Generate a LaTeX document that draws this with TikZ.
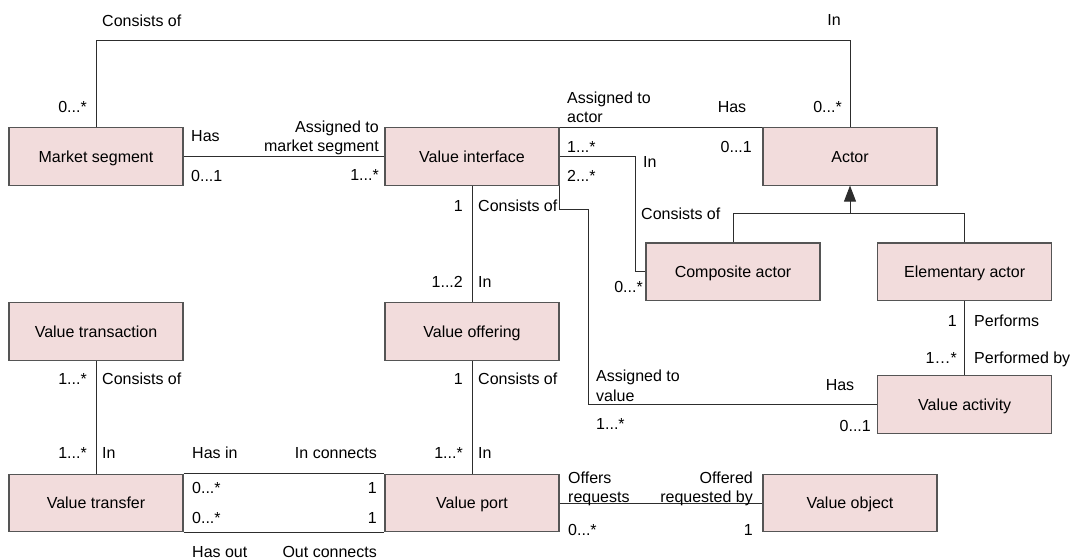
\documentclass[tikz,border=0pt]{standalone}
\usepackage{fontspec}
\setmainfont{Liberation Sans}
\usetikzlibrary{arrows.meta}
\definecolor{boxfill}{RGB}{242,220,220}
\definecolor{boxline}{RGB}{85,85,85}
\definecolor{wirecol}{RGB}{45,45,45}
\begin{document}
\begin{tikzpicture}[x=1pt,y=-1pt,
  cls/.style={draw=boxline,fill=boxfill,line width=1.1pt,minimum width=174pt,minimum height=57.5pt,
    inner sep=0pt,text height=11.5pt,text depth=0pt,font=\fontsize{16}{19.5}\selectfont},
  lab/.style={inner sep=0pt,text height=11.5pt,text depth=0pt,font=\fontsize{16}{19.5}\selectfont},
  lab2/.style={inner sep=0pt,font=\fontsize{16}{19.5}\selectfont},
  wire/.style={draw=wirecol,line width=0.9pt}]
\useasboundingbox (0,0) rectangle (1073,559);

% classes
\node[cls] (ms)      at (96,156.3)    {Market segment};
\node[cls] (vi)      at (472,156.3)   {Value interface};
\node[cls] (actor)   at (850,156.3)   {Actor};
\node[cls] (comp)    at (733,271.7)   {Composite actor};
\node[cls] (elem)    at (964.7,271.7) {Elementary actor};
\node[cls] (vtrans)  at (96,331.5)    {Value transaction};
\node[cls] (voff)    at (472,331.5)   {Value offering};
\node[cls] (vact)    at (964.7,404.5) {Value activity};
\node[cls] (vtransf) at (96,503)      {Value transfer};
\node[cls] (vport)   at (472,503)     {Value port};
\node[cls] (vobj)    at (850,503)     {Value object};

% associations
\coordinate (topbar) at (0,40.7);
\draw[wire] (ms.north) -- (ms.north |- topbar) -- (actor.north |- topbar) -- (actor.north);
\draw[wire] (ms.east) -- (vi.west);
\draw[wire] (vi.north east) -- (actor.north west);
\coordinate (inbend) at (635,0);
\draw[wire] (vi.east) -| (inbend |- comp.west) -- (comp.west);
\coordinate (valbend) at (588,209);
\draw[wire] (vi.south east) |- (valbend) |- (vact.west);
\draw[wire] (vi.south) -- (voff.north);
\draw[wire] (voff.south) -- (vport.north);
\draw[wire] (vtrans.south) -- (vtransf.north);
\draw[wire] (elem.south) -- (vact.north);
\draw[wire] (vtransf.north east) -- (vport.north west);
\draw[wire] (vtransf.south east) -- (vport.south west);
\draw[wire] (vport.east) -- (vobj.west);

% generalization
\coordinate (genbar) at (0,213.7);
\draw[wire] (comp.north) |- (elem.north |- genbar) -- (elem.north);
\draw[wire,-{Triangle[width=12pt,length=16pt]}] (actor.south |- genbar) -- (actor.south);

% role names and multiplicities
\node[lab,anchor=west] (t1) at (102,21) {Consists of};
\node[lab] (t2) at (834,20) {In};
\node[lab,anchor=east] (a1) at (87,107) {0...*};
\node[lab,anchor=east] (a2) at (842,107) {0...*};

\node[lab,anchor=west] (b1) at (191,136) {Has};
\node[lab,anchor=west] (b2) at (191,176) {0...1};
\node[lab2,anchor=north east,align=right] (b3) at (379,120.3) {Assigned to\\market segment};
\node[lab,anchor=east] (b4) at (379,175) {1...*};

\node[lab2,anchor=north west,align=left] (c1) at (567,91.7) {Assigned to\\actor};
\node[lab] (c2) at (732,107) {Has};
\node[lab,anchor=west] (c3) at (567,147) {1...*};
\node[lab,anchor=east] (c4) at (752,147) {0...1};

\node[lab,anchor=west] (d1) at (643,162) {In};
\node[lab,anchor=west] (d2) at (567,176) {2...*};
\node[lab,anchor=west] (d3) at (641,213.5) {Consists of};
\node[lab,anchor=east] (d4) at (643,287) {0...*};

\node[lab,anchor=east] (e1) at (463,206) {1};
\node[lab,anchor=west] (e2) at (478,206) {Consists of};
\node[lab,anchor=east] (e3) at (463,282) {1...2};
\node[lab,anchor=west] (e4) at (478,282) {In};
\node[lab,anchor=east] (e5) at (463,379) {1};
\node[lab,anchor=west] (e6) at (478,379) {Consists of};
\node[lab,anchor=east] (e7) at (463,453) {1...*};
\node[lab,anchor=west] (e8) at (478,453) {In};

\node[lab,anchor=east] (f1) at (87,379) {1...*};
\node[lab,anchor=west] (f2) at (102,379) {Consists of};
\node[lab,anchor=east] (f3) at (87,453) {1...*};
\node[lab,anchor=west] (f4) at (102,453) {In};

\node[lab,anchor=west] (g1) at (192,453) {Has in};
\node[lab,anchor=east] (g2) at (377,453) {In connects};
\node[lab,anchor=west] (g3) at (192,488) {0...*};
\node[lab,anchor=east] (g4) at (377,488) {1};
\node[lab,anchor=west] (g5) at (192,518) {0...*};
\node[lab,anchor=east] (g6) at (377,518) {1};
\node[lab,anchor=west] (g7) at (192,552) {Has out};
\node[lab,anchor=east] (g8) at (377,552) {Out connects};

\node[lab2,anchor=north west,align=left] (h1) at (568,471.5) {Offers\\requests};
\node[lab2,anchor=north east,align=right] (h2) at (753,471.5) {Offered\\requested by};
\node[lab,anchor=west] (h3) at (568,530) {0...*};
\node[lab,anchor=east] (h4) at (753,530) {1};

\node[lab,anchor=east] (k1) at (957,321) {1};
\node[lab,anchor=west] (k2) at (974,321) {Performs};
\node[lab,anchor=east] (k3) at (957,358) {1…*};
\node[lab,anchor=west] (k4) at (974,358) {Performed by};

\node[lab2,anchor=north west,align=left] (m1) at (596,370) {Assigned to\\value};
\node[lab] (m2) at (840,385) {Has};
\node[lab,anchor=west] (m3) at (596,424) {1...*};
\node[lab,anchor=east] (m4) at (871,426) {0...1};
\end{tikzpicture}
\end{document}
